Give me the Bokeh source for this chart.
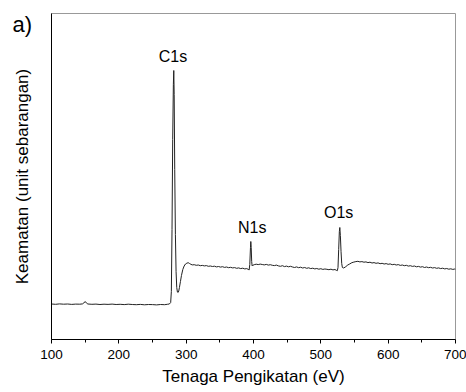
from bokeh.plotting import figure
from bokeh.models import Range1d, FixedTicker, Label, Title
from bokeh.embed import file_html
from bokeh.resources import INLINE

# Binding energy (eV) and intensity (arbitrary units)
energy = [100, 106, 112, 118, 124, 130, 136, 142, 146, 148, 150, 152, 154, 160, 166, 172, 178, 184, 190, 196,
          202, 208, 214, 220, 226, 232, 238, 244, 250, 256, 262, 268, 272, 275, 277, 278, 279, 280, 281, 281.6,
          282.2, 283, 284, 285, 286, 287, 288, 289, 290, 291.5, 293, 295, 297, 299, 301, 303, 305, 307, 309, 312,
          315, 318, 321, 324, 327, 330, 333, 336, 339, 342, 345, 348, 351, 354, 357, 360, 363, 366, 369, 372,
          375, 378, 381, 384, 387, 390, 392, 393.5, 394.5, 395.5, 396, 396.6, 397.3, 398, 399, 401, 404, 407, 410, 413,
          416, 419, 422, 425, 428, 431, 434, 437, 440, 443, 446, 449, 452, 455, 458, 461, 464, 467, 470, 473,
          476, 479, 482, 485, 488, 491, 494, 497, 500, 503, 506, 509, 512, 515, 518, 521, 523, 524.5, 525.5, 526.5,
          527.5, 528.2, 529, 530, 531, 532, 534, 537, 540, 543, 546, 549, 552, 555, 558, 561, 564, 567, 570, 573,
          576, 579, 582, 585, 588, 591, 594, 597, 600, 603, 606, 609, 612, 615, 618, 621, 624, 627, 630, 633,
          636, 639, 642, 645, 648, 651, 654, 657, 660, 663, 666, 669, 672, 675, 678, 681, 684, 687, 690, 693,
          696, 699, 700]
intensity = [35.5, 35.2, 35.6, 35.3, 35.5, 35.1, 35.4, 35.3, 35.6, 36.5, 38.0, 36.4, 35.5, 35.2, 35.4, 35.0, 35.3, 35.1, 35.4, 35.0,
             35.2, 34.9, 35.3, 35.0, 34.8, 35.1, 34.7, 35.0, 34.9, 34.6, 35.0, 34.8, 35.2, 35.5, 37, 48, 110, 200, 255, 269,
             245, 170, 105, 68, 52, 47.5, 47, 48.5, 52, 58, 64, 70, 73.5, 75.5, 76.3, 76.8, 76, 75.2, 74.6, 74.8,
             74.2, 74.5, 73.8, 74.1, 73.6, 73.9, 73.2, 73.5, 73.0, 73.3, 72.6, 73.0, 72.4, 72.8, 72.1, 72.5, 71.8, 72.2, 71.6, 71.9,
             71.2, 71.6, 70.9, 71.3, 70.6, 70.9, 70.2, 69.5, 75, 92, 98, 92, 78, 73.5, 74.2, 74.8, 75.3, 74.9, 75.4, 75.0,
             74.6, 75.1, 74.4, 74.8, 74.2, 73.9, 74.4, 73.6, 73.2, 73.8, 72.9, 73.4, 72.7, 73.2, 72.5, 72.0, 72.6, 71.8, 72.3, 71.5,
             72.0, 71.2, 71.7, 70.9, 71.3, 70.6, 71.0, 70.3, 70.8, 70.1, 70.5, 70.2, 69.8, 70.3, 69.6, 70.0, 69.2, 68.8, 72, 90,
             108, 112, 104, 88, 76, 72, 71.5, 72.8, 74.5, 75.6, 76.8, 77.4, 77.9, 78.2, 77.6, 77.9, 77.3, 77.6, 76.9, 77.3,
             76.5, 76.9, 76.2, 76.6, 75.8, 76.2, 75.5, 75.9, 75.2, 75.6, 74.8, 75.2, 74.5, 74.9, 74.1, 74.5, 73.8, 74.2, 73.4, 73.8,
             73.1, 73.5, 72.7, 73.1, 72.4, 72.8, 72.0, 72.5, 71.8, 72.2, 71.5, 71.9, 71.2, 71.6, 70.9, 71.3, 70.6, 71.0, 70.3, 70.7,
             70.1, 70.5, 70.3]

peak_labels = ["C1s", "N1s", "O1s"]
peak_x = [280.5, 398, 526.5]
peak_y = [283, 112, 127]

x_ticks = [100, 200, 300, 400, 500, 600, 700]
x_minor = [150, 250, 350, 450, 550, 650]

FONT = "Liberation Sans"

p = figure(width=466, height=392, output_backend="svg", toolbar_location=None,
           x_range=Range1d(100, 700), y_range=Range1d(0, 326),
           min_border_left=51, min_border_right=11, min_border_top=13, min_border_bottom=53)
p.grid.visible = False
p.outline_line_color = "#999999"
p.background_fill_color = "white"
p.border_fill_color = "white"

p.line(energy, intensity, line_color="#222222", line_width=1)

xa = p.xaxis[0]
xa.ticker = FixedTicker(ticks=x_ticks, minor_ticks=x_minor)
xa.axis_label = "Tenaga Pengikatan (eV)"
xa.axis_label_text_font = FONT
xa.axis_label_text_font_size = "17px"
xa.axis_label_text_font_style = "normal"
xa.axis_label_text_color = "black"
xa.axis_label_standoff = 5
xa.major_label_text_font = FONT
xa.major_label_text_font_size = "13.5px"
xa.major_label_text_color = "black"
xa.major_label_standoff = 6
xa.major_tick_in = 0
xa.major_tick_out = 4
xa.minor_tick_in = 0
xa.minor_tick_out = 3
xa.axis_line_color = "black"
xa.major_tick_line_color = "black"
xa.minor_tick_line_color = "black"

ya = p.yaxis[0]
ya.ticker = FixedTicker(ticks=[])
ya.axis_label = "Keamatan (unit sebarangan)"
ya.axis_label_text_font = FONT
ya.axis_label_text_font_size = "17px"
ya.axis_label_text_font_style = "normal"
ya.axis_label_text_color = "black"
ya.axis_label_standoff = 20
ya.major_tick_in = 0
ya.major_tick_out = 0
ya.minor_tick_in = 0
ya.minor_tick_out = 0
ya.axis_line_color = "black"

for t, x, y in zip(peak_labels, peak_x, peak_y):
    p.add_layout(Label(x=x, y=y, text=t, text_align="center", text_baseline="alphabetic",
                       text_font=FONT, text_font_size="16px", text_color="black"))

# panel tag "a)" drawn as a title hanging into the left margin
p.add_layout(Title(text="a)", align="left", offset=-39, standoff=-47, vertical_align="bottom",
                   text_font=FONT, text_font_size="22px", text_font_style="normal",
                   text_color="black"), "above")

open("out.html", "w").write(file_html(p, INLINE))
